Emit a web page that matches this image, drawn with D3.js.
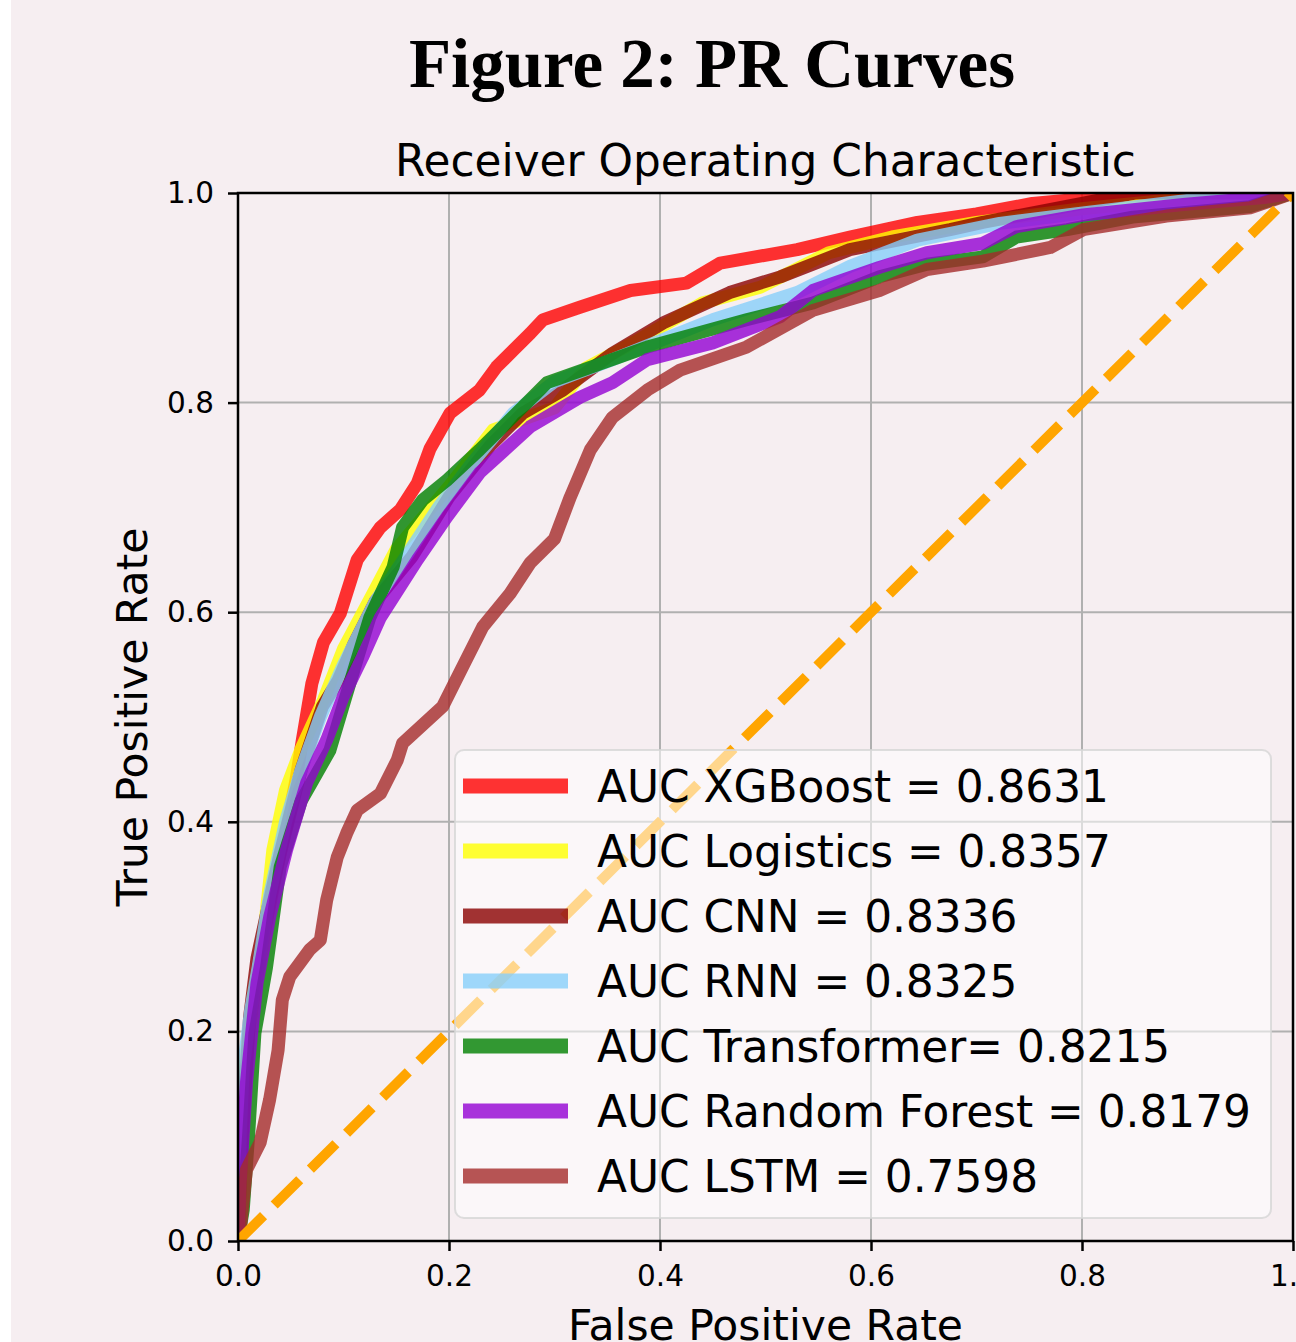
<!DOCTYPE html>
<html>
<head>
<meta charset="utf-8">
<script src="https://cdn.jsdelivr.net/npm/d3@7"></script>
<style>
  html, body { margin: 0; padding: 0; background: #ffffff; }
  svg { display: block; }
</style>
</head>
<body>
<svg id="chart" width="1296" height="1342"></svg>
<script>
// ROC points, [fpr, tpr]
const xgboost = [[0,0],[0.002,0.05],[0.005,0.12],[0.01,0.2],[0.02,0.27],[0.03,0.32],[0.04,0.37],[0.047,0.40],[0.055,0.44],[0.061,0.478],[0.07,0.532],[0.081,0.571],[0.097,0.599],[0.113,0.65],[0.135,0.681],[0.154,0.698],[0.17,0.723],[0.182,0.756],[0.201,0.79],[0.229,0.812],[0.245,0.834],[0.261,0.85],[0.277,0.866],[0.289,0.879],[0.324,0.891],[0.372,0.907],[0.425,0.914],[0.457,0.933],[0.53,0.946],[0.58,0.958],[0.644,0.972],[0.70,0.98],[0.753,0.99],[0.817,0.996],[0.9,1.0],[1,1]];
const logistics = [[0,0],[0.003,0.1],[0.008,0.18],[0.015,0.24],[0.023,0.278],[0.033,0.373],[0.045,0.43],[0.06,0.47],[0.081,0.516],[0.1,0.565],[0.128,0.618],[0.15,0.66],[0.175,0.69],[0.2,0.72],[0.242,0.774],[0.30,0.795],[0.33,0.833],[0.38,0.86],[0.44,0.895],[0.495,0.91],[0.56,0.943],[0.62,0.958],[0.70,0.972],[0.80,0.985],[0.9,0.995],[1,1]];
const cnn = [[0,0],[0.003,0.08],[0.007,0.15],[0.011,0.214],[0.018,0.27],[0.027,0.312],[0.04,0.37],[0.06,0.45],[0.08,0.51],[0.095,0.535],[0.11,0.57],[0.13,0.61],[0.165,0.653],[0.2,0.71],[0.24,0.76],[0.27,0.79],[0.308,0.812],[0.355,0.847],[0.403,0.876],[0.466,0.905],[0.514,0.92],[0.58,0.946],[0.675,0.965],[0.706,0.972],[0.8,0.99],[0.85,1.0],[1,1]];
const rnn = [[0,0],[0.002,0.1],[0.005,0.166],[0.012,0.22],[0.019,0.261],[0.03,0.33],[0.045,0.4],[0.06,0.45],[0.078,0.5],[0.1,0.55],[0.13,0.61],[0.163,0.659],[0.19,0.7],[0.22,0.74],[0.261,0.79],[0.3,0.82],[0.355,0.841],[0.45,0.879],[0.53,0.905],[0.58,0.93],[0.644,0.955],[0.722,0.971],[0.801,0.981],[0.9,0.993],[1,1]];
const transformer = [[0,0],[0.005,0.03],[0.01,0.1],[0.016,0.198],[0.027,0.261],[0.04,0.357],[0.06,0.42],[0.087,0.468],[0.106,0.532],[0.125,0.595],[0.147,0.643],[0.156,0.681],[0.175,0.707],[0.198,0.726],[0.229,0.755],[0.293,0.819],[0.388,0.853],[0.482,0.879],[0.545,0.895],[0.608,0.92],[0.653,0.932],[0.706,0.939],[0.738,0.958],[0.786,0.965],[0.848,0.977],[0.959,0.987],[1,1]];
const randomForest = [[0,0],[0.002,0.055],[0.008,0.151],[0.018,0.246],[0.03,0.309],[0.046,0.373],[0.065,0.437],[0.084,0.478],[0.1,0.52],[0.118,0.557],[0.135,0.595],[0.17,0.65],[0.198,0.691],[0.229,0.733],[0.277,0.777],[0.324,0.805],[0.355,0.819],[0.388,0.841],[0.45,0.857],[0.514,0.882],[0.545,0.907],[0.608,0.929],[0.653,0.943],[0.706,0.952],[0.738,0.968],[0.801,0.979],[0.896,0.989],[0.975,0.996],[1,1]];
const lstm = [[0,0],[0.002,0.01],[0.008,0.068],[0.021,0.094],[0.03,0.135],[0.038,0.182],[0.042,0.23],[0.049,0.252],[0.068,0.278],[0.078,0.287],[0.084,0.325],[0.094,0.366],[0.103,0.389],[0.113,0.411],[0.135,0.427],[0.151,0.459],[0.156,0.475],[0.194,0.51],[0.213,0.548],[0.232,0.586],[0.258,0.618],[0.277,0.647],[0.3,0.67],[0.315,0.71],[0.334,0.755],[0.355,0.786],[0.388,0.812],[0.419,0.831],[0.482,0.853],[0.545,0.888],[0.608,0.907],[0.653,0.927],[0.706,0.935],[0.77,0.948],[0.801,0.965],[0.88,0.978],[0.96,0.986],[1,1]];

const modelNames = ['XGBoost', 'Logistics', 'CNN', 'RNN', 'Transformer', 'Random Forest', 'LSTM'];
const aucLabels  = ['AUC XGBoost = 0.8631', 'AUC Logistics = 0.8357', 'AUC CNN = 0.8336', 'AUC RNN = 0.8325',
                    'AUC Transformer= 0.8215', 'AUC Random Forest = 0.8179', 'AUC LSTM = 0.7598'];
const modelColors = ['red', 'yellow', 'darkred', 'lightskyblue', 'green', 'darkviolet', 'brown'];
const curves = [xgboost, logistics, cnn, rnn, transformer, randomForest, lstm];
const tickValues = [0, 0.2, 0.4, 0.6, 0.8, 1.0];

const svg = d3.select('#chart');
const font = 'DejaVu Sans, sans-serif';

// page background (thin white strip on the left)
svg.append('rect').attr('x', 11).attr('y', 0).attr('width', 1285).attr('height', 1342).attr('fill', '#f6eef1');

const pL = 238, pR = 1293, pT = 193, pB = 1241;
const x = d3.scaleLinear().domain([0, 1]).range([pL, pR]);
const y = d3.scaleLinear().domain([0, 1]).range([pB, pT]);

svg.append('defs').append('clipPath').attr('id', 'plot-clip')
  .append('rect').attr('x', pL).attr('y', pT).attr('width', pR - pL).attr('height', pB - pT);

// grid
const grid = svg.append('g');
grid.selectAll('.gx').data(tickValues).join('line')
  .attr('x1', d => x(d)).attr('x2', d => x(d)).attr('y1', pT).attr('y2', pB)
  .attr('stroke', '#b0b0b0').attr('stroke-width', 2);
grid.selectAll('.gy').data(tickValues).join('line')
  .attr('y1', d => y(d)).attr('y2', d => y(d)).attr('x1', pL).attr('x2', pR)
  .attr('stroke', '#b0b0b0').attr('stroke-width', 2);

// curves
const line = d3.line().x(d => x(d[0])).y(d => y(d[1]));
const plot = svg.append('g').attr('clip-path', 'url(#plot-clip)');
curves.forEach((c, i) => {
  plot.append('path').datum(c)
    .attr('d', line)
    .attr('fill', 'none')
    .attr('stroke', modelColors[i])
    .attr('stroke-opacity', 0.8)
    .attr('stroke-width', 13)
    .attr('stroke-linejoin', 'round');
});

// chance diagonal
plot.append('path').datum([[0, 0], [1, 1]])
  .attr('d', line)
  .attr('fill', 'none')
  .attr('stroke', 'orange')
  .attr('stroke-width', 10)
  .attr('stroke-dasharray', '36,15');

// axes
const xAxis = svg.append('g').attr('transform', `translate(0,${pB})`)
  .call(d3.axisBottom(x).tickValues(tickValues).tickFormat(d3.format('.1f')).tickSize(10).tickPadding(14));
const yAxis = svg.append('g').attr('transform', `translate(${pL},0)`)
  .call(d3.axisLeft(y).tickValues(tickValues).tickFormat(d3.format('.1f')).tickSize(10).tickPadding(14));
[xAxis, yAxis].forEach(a => {
  a.select('.domain').remove();
  a.selectAll('.tick line').attr('stroke', '#000').attr('stroke-width', 2.5);
  a.selectAll('.tick text').attr('fill', '#000').attr('font-family', font).attr('font-size', '29.5px');
});

// spines
svg.append('rect').attr('x', pL).attr('y', pT).attr('width', pR - pL).attr('height', pB - pT)
  .attr('fill', 'none').attr('stroke', '#000').attr('stroke-width', 2.5);

// legend
const lg = svg.append('g');
lg.append('rect').attr('x', 455).attr('y', 750).attr('width', 816).attr('height', 468).attr('rx', 9)
  .attr('fill', '#ffffff').attr('fill-opacity', 0.55)
  .attr('stroke', '#d6d6d6').attr('stroke-opacity', 0.8).attr('stroke-width', 2);
aucLabels.forEach((lab, i) => {
  const cy = 786 + i * 65;
  lg.append('line').attr('x1', 463).attr('x2', 568).attr('y1', cy).attr('y2', cy)
    .attr('stroke', modelColors[i]).attr('stroke-opacity', 0.8).attr('stroke-width', 15);
  lg.append('text').attr('x', 597).attr('y', cy).attr('dy', '0.36em')
    .attr('font-family', font).attr('font-size', '43.8px').attr('fill', '#000').text(lab);
});

// titles and labels
svg.append('text').attr('x', 712).attr('y', 87).attr('text-anchor', 'middle')
  .attr('font-family', 'Liberation Serif, Times New Roman, serif').attr('font-weight', 'bold')
  .attr('font-size', '69px').attr('fill', '#000').text('Figure 2: PR Curves');
svg.append('text').attr('x', (pL + pR) / 2).attr('y', 176).attr('text-anchor', 'middle')
  .attr('font-family', font).attr('font-size', '43.8px').attr('fill', '#000').text('Receiver Operating Characteristic');
svg.append('text').attr('x', (pL + pR) / 2).attr('y', 1340).attr('text-anchor', 'middle')
  .attr('font-family', font).attr('font-size', '42.5px').attr('fill', '#000').text('False Positive Rate');
svg.append('text').attr('transform', `translate(147,${(pT + pB) / 2}) rotate(-90)`).attr('text-anchor', 'middle')
  .attr('font-family', font).attr('font-size', '42.5px').attr('fill', '#000').text('True Positive Rate');
</script>
</body>
</html>
